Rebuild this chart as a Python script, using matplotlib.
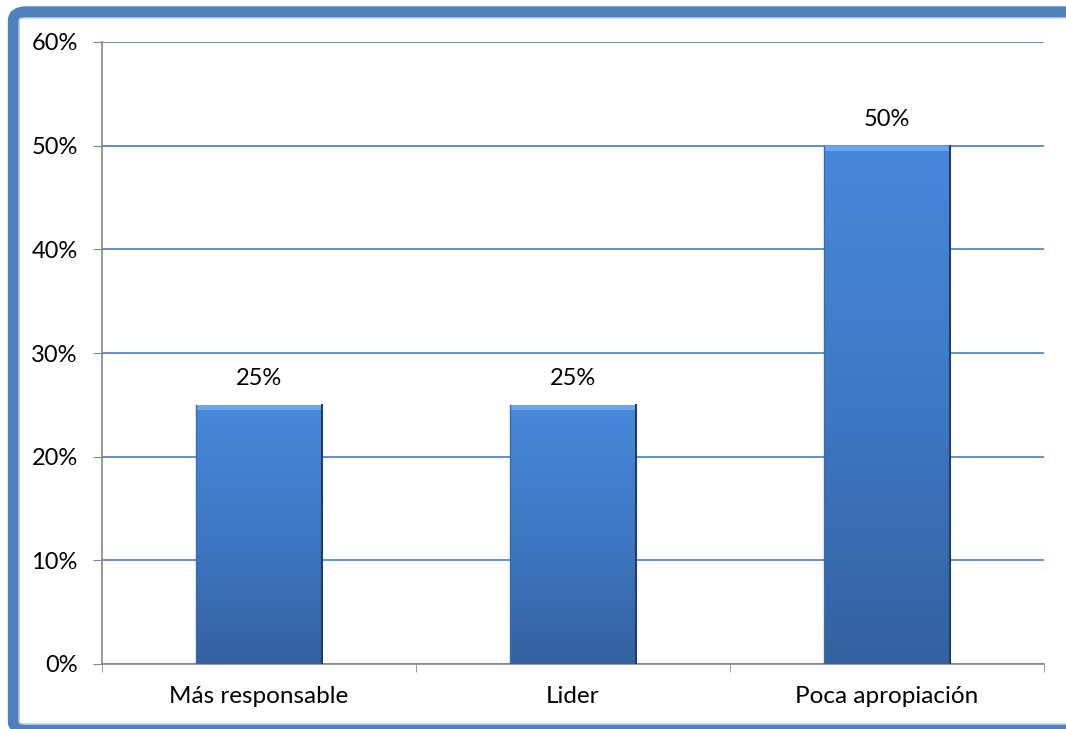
import numpy as np
import matplotlib
matplotlib.use('Agg')
import matplotlib.pyplot as plt
from matplotlib.patches import FancyBboxPatch
from matplotlib.colors import LinearSegmentedColormap

# data
categories = ['Más responsable', 'Lider', 'Poca apropiación']
values = [25, 25, 50]
yticks = [0, 10, 20, 30, 40, 50, 60]

plt.rcParams['font.family'] = ['Lato', 'DejaVu Sans']

W, H = 1066, 729
fig = plt.figure(figsize=(W / 100, H / 100), dpi=100)
ax = fig.add_axes([102 / W, 1 - 664 / H, 942 / W, 622 / H])

# frame around the chart
frame = FancyBboxPatch((13.5 / W, -1 / H), 1.2, 1 - 11 / H, boxstyle='round,pad=0,rounding_size=0.012',
                       transform=fig.transFigure, fill=False, ec='#4F81BD', lw=8.2, zorder=0)
fig.patches.append(frame)
inner = FancyBboxPatch((19 / W, 5 / H), 1.2, 1 - 23 / H, boxstyle='round,pad=0,rounding_size=0.004',
                       transform=fig.transFigure, fill=False, ec='#B8CCE4', lw=1.0, zorder=0)
fig.patches.append(inner)

x = np.arange(len(categories))
bars = ax.bar(x, values, width=0.4, color='none', zorder=3)

cmap = LinearSegmentedColormap.from_list('barblue', ['#3461A0', '#3E78C4', '#4888DA'])
grad = np.linspace(0, 1, 256).reshape(-1, 1)
for b in bars:
    x0, w, h = b.get_x(), b.get_width(), b.get_height()
    im = ax.imshow(grad, extent=(x0, x0 + w, 0, h), origin='lower', cmap=cmap,
                   aspect='auto', zorder=3)
    im.set_clip_path(b)
    # bevel highlight on top and dark side edges
    ax.fill_between([x0, x0 + w], h - 0.5, h, color='#6BA7EE', zorder=4, lw=0)
    ax.plot([x0 + w, x0 + w], [0, h], color='#1F3F6A', lw=1.5, zorder=5)
    ax.plot([x0, x0], [0, h], color='#3A6BB0', lw=1, zorder=5)
    ax.text(x0 + w / 2, h + 2.5, f'{h:.0f}%', ha='center', va='center', fontsize=17)

ax.set_xlim(-0.5, 2.5)
ax.set_ylim(0, 60)
ax.set_yticks(yticks)
ax.set_yticklabels([f'{t}%' for t in yticks], fontsize=17)
ax.yaxis.grid(True, color='#4A7EBB', lw=1.2, zorder=1)
ax.set_axisbelow(True)

ax.set_xticks(x)
ax.set_xticklabels(categories, fontsize=17.5)
ax.set_xticks(np.arange(-0.5, 3, 1), minor=True)
ax.tick_params(axis='x', which='major', length=0, pad=16)
ax.tick_params(axis='x', which='minor', length=6, color='#868686', direction='out')
ax.tick_params(axis='y', length=6.5, color='#868686', direction='out', pad=11)

for s in ['top', 'right']:
    ax.spines[s].set_visible(False)
for s in ['left', 'bottom']:
    ax.spines[s].set_color('#868686')
    ax.spines[s].set_linewidth(1.2)

fig.savefig('out.png', dpi=100)
